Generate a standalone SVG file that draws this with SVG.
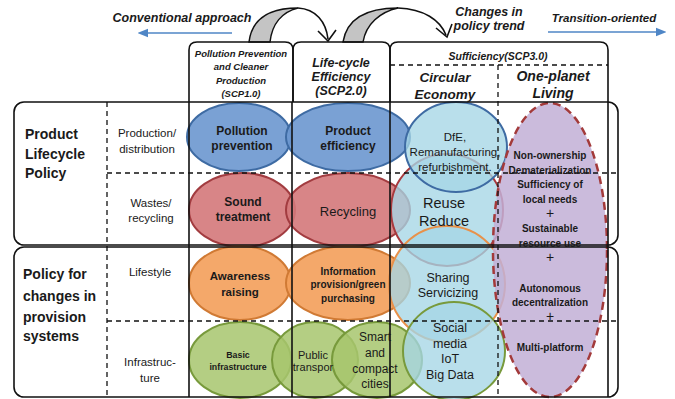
<svg xmlns="http://www.w3.org/2000/svg" width="675" height="399" viewBox="0 0 675 399">
<defs>
<marker id="blueL" viewBox="0 0 10 10" refX="2" refY="5" markerWidth="7" markerHeight="7" orient="auto-start-reverse"><path d="M0 1 L10 5 L0 9 Z" fill="#4f86c6"/></marker>
<style>
.t{font-family:"Liberation Sans",Arial,sans-serif;fill:#1a1a1a;text-anchor:middle}
.b{font-weight:bold}
.i{font-style:italic}
.s{stroke:#111;stroke-width:1.6;fill:none}
.d{stroke:#111;stroke-width:1.3;stroke-dasharray:5 4;fill:none}
.blue{fill:#6b97cf;fill-opacity:0.9;stroke:#3e6ba3;stroke-width:2}
.red{fill:#d4787a;fill-opacity:0.9;stroke:#a23c40;stroke-width:2}
.orange{fill:#f39e5a;fill-opacity:0.9;stroke:#d07a34;stroke-width:2}
.green{fill:#a7c56d;fill-opacity:0.85;stroke:#789a3c;stroke-width:2}
.lb{fill:#a5d6e6;fill-opacity:0.78;stroke-width:2}
.purple{fill:#c2afd6;fill-opacity:0.85;stroke:#a33a3a;stroke-width:2.5;stroke-dasharray:8 5}
</style>
</defs>
<rect width="675" height="399" fill="#fff"/>

<!-- header labels -->
<g id="conventional">
<text class="t b i" x="182" y="22" font-size="12.5">Conventional approach</text>
</g>
<g id="changes">
<text class="t b i" x="489" y="16" font-size="12.5">Changes in</text>
<text class="t b i" x="489" y="30" font-size="12.5">policy trend</text>
</g>
<g id="transition">
<text class="t b i" x="604" y="22" font-size="11.5">Transition-oriented</text>
</g>

<!-- ellipses -->
<g id="n-pollution"><ellipse class="blue" cx="239" cy="137" rx="52" ry="34"/></g>
<g id="n-product"><ellipse class="blue" cx="348" cy="137" rx="62" ry="34"/></g>
<g id="n-sound"><ellipse class="red" cx="242" cy="210" rx="53" ry="37"/></g>
<g id="n-recycling"><ellipse class="red" cx="348" cy="210" rx="62" ry="37"/></g>
<g id="n-awareness"><ellipse class="orange" cx="240" cy="283" rx="51" ry="37"/></g>
<g id="n-information"><ellipse class="orange" cx="348" cy="283" rx="62" ry="37"/></g>
<g id="n-basic"><ellipse class="green" cx="240" cy="360" rx="51" ry="38"/></g>
<g id="n-public"><ellipse class="green" cx="315" cy="360" rx="43" ry="38"/></g>
<g id="n-smart"><ellipse class="green" cx="377" cy="360" rx="45" ry="38"/></g>
<g id="n-reuse"><ellipse class="lb" stroke="#a8393d" cx="447" cy="210" rx="56" ry="56"/></g>
<g id="n-sharing"><ellipse class="lb" stroke="#e8914a" cx="447" cy="284" rx="58" ry="58"/></g>
<g id="n-dfe"><ellipse class="lb" stroke="#3e6ba3" cx="456" cy="147" rx="51" ry="45"/></g>
<g id="n-social"><ellipse class="lb" stroke="#789a3c" cx="454" cy="351" rx="51" ry="49"/></g>
<g id="n-oneplanet"><ellipse class="purple" cx="550" cy="250" rx="57" ry="147"/></g>

<!-- connectors and frame -->
<g id="connectors">
<line x1="232" y1="33" x2="146" y2="33" stroke="#4f86c6" stroke-width="1.5" marker-end="url(#blueL)"/>
<line x1="548" y1="32" x2="658" y2="32" stroke="#4f86c6" stroke-width="1.5" marker-end="url(#blueL)"/>
<path d="M249 42 C252 18 270 8 298 8 C282 12 272 24 270 42 Z" fill="#c4c4c4" stroke="#111" stroke-width="1.5"/>
<path d="M298 8 C316 9 326 22 328 39" class="s" stroke-width="1.8"/>
<path d="M318 31 L328 41 L336 30" class="s" stroke-width="1.8"/>
<path d="M343 42 C347 18 368 8 398 8 C380 12 366 24 363 42 Z" fill="#c4c4c4" stroke="#111" stroke-width="1.5"/>
<path d="M398 8 C424 9 440 20 446 35" class="s" stroke-width="1.8"/>
<path d="M436 28 L447 37 L452 24" class="s" stroke-width="1.8"/>
<path class="s" d="M189 102 V50 Q189 42 197 42 H285 Q293 42 293 50 V102"/>
<path class="s" d="M293 102 V50 Q293 42 301 42 H382 Q390 42 390 50 V102"/>
<path class="s" d="M390 102 V50 Q390 42 398 42 H600 Q608 42 608 50 V102"/>
<rect class="s" x="14" y="102" width="604" height="143" rx="10"/>
<rect class="s" x="14" y="247" width="604" height="150" rx="10"/>
<line class="s" x1="189" y1="102" x2="189" y2="397"/>
<line class="s" x1="292" y1="102" x2="292" y2="397"/>
<line class="s" x1="390" y1="102" x2="390" y2="397"/>
<line class="s" x1="608" y1="102" x2="608" y2="397"/>
<line class="d" x1="107" y1="102" x2="107" y2="397"/>
<line class="d" x1="498" y1="65" x2="498" y2="397"/>
<line class="d" x1="390" y1="65" x2="608" y2="65"/>
<line class="d" x1="107" y1="173" x2="618" y2="173"/>
<line class="d" x1="107" y1="321" x2="618" y2="321"/>
</g>

<!-- header box texts -->
<g id="h-scp1">
<text class="t b i" x="241" y="57" font-size="9.5">Pollution Prevention</text>
<text class="t b i" x="241" y="70" font-size="9.5">and Cleaner</text>
<text class="t b i" x="241" y="84" font-size="9.5">Production</text>
<text class="t b i" x="241" y="97" font-size="9.5">(SCP1.0)</text>
</g>
<g id="h-scp2">
<text class="t b i" x="341" y="67" font-size="12.5">Life-cycle</text>
<text class="t b i" x="341" y="81" font-size="12.5">Efficiency</text>
<text class="t b i" x="341" y="95" font-size="12.5">(SCP2.0)</text>
</g>
<g id="h-scp3">
<text class="t b i" x="498" y="60" font-size="10.5">Sufficiency(SCP3.0)</text>
</g>
<g id="h-circular">
<text class="t b i" x="445" y="82" font-size="13.5">Circular</text>
<text class="t b i" x="445" y="99" font-size="13.5">Economy</text>
</g>
<g id="h-oneplanet">
<text class="t b i" x="553" y="81" font-size="14">One-planet</text>
<text class="t b i" x="553" y="98" font-size="14">Living</text>
</g>

<!-- row labels -->
<g id="r-product">
<text class="t b" x="25" y="139" font-size="14" style="text-anchor:start">Product</text>
<text class="t b" x="25" y="159" font-size="14" style="text-anchor:start">Lifecycle</text>
<text class="t b" x="25" y="178" font-size="14" style="text-anchor:start">Policy</text>
</g>
<g id="r-production">
<text class="t" x="147" y="137" font-size="11.5">Production/</text>
<text class="t" x="147" y="153" font-size="11.5">distribution</text>
</g>
<g id="r-wastes">
<text class="t" x="151" y="207" font-size="11.5">Wastes/</text>
<text class="t" x="151" y="222" font-size="11.5">recycling</text>
</g>
<g id="r-policy">
<text class="t b" x="23" y="279" font-size="14" style="text-anchor:start">Policy for</text>
<text class="t b" x="23" y="301" font-size="14" style="text-anchor:start">changes in</text>
<text class="t b" x="23" y="322" font-size="14" style="text-anchor:start">provision</text>
<text class="t b" x="23" y="341" font-size="14" style="text-anchor:start">systems</text>
</g>
<g id="r-lifestyle">
<text class="t" x="150" y="276" font-size="11.5">Lifestyle</text>
</g>
<g id="r-infra">
<text class="t" x="150" y="366" font-size="11.5">Infrastruc-</text>
<text class="t" x="150" y="382" font-size="11.5">ture</text>
</g>

<!-- ellipse texts -->
<g id="l-ellipses">
<text class="t b" x="242" y="135" font-size="12">Pollution</text>
<text class="t b" x="242" y="150" font-size="12">prevention</text>
<text class="t b" x="348" y="135" font-size="12">Product</text>
<text class="t b" x="348" y="150" font-size="12">efficiency</text>
<text class="t b" x="243" y="206" font-size="12">Sound</text>
<text class="t b" x="243" y="221" font-size="12">treatment</text>
<text class="t" x="348" y="216" font-size="13">Recycling</text>
<text class="t b" x="240" y="280" font-size="11.5">Awareness</text>
<text class="t b" x="240" y="296" font-size="11.5">raising</text>
<text class="t b" x="348" y="275" font-size="10">Information</text>
<text class="t b" x="348" y="288" font-size="10">provision/green</text>
<text class="t b" x="348" y="302" font-size="10">purchasing</text>
<text class="t b" x="238" y="358" font-size="8.8">Basic</text>
<text class="t b" x="238" y="370" font-size="8.8">infrastructure</text>
<text class="t" x="313" y="359" font-size="11" fill="#2d3a1e">Public</text>
<text class="t" x="313" y="371" font-size="11" fill="#2d3a1e">transpor</text>
<text class="t" x="375" y="341" font-size="12">Smart</text>
<text class="t" x="375" y="357" font-size="12">and</text>
<text class="t" x="375" y="373" font-size="12">compact</text>
<text class="t" x="375" y="388" font-size="12">cities</text>
<text class="t" x="455" y="141" font-size="11.5">DfE,</text>
<text class="t" x="455" y="156" font-size="11.5">Remanufacturing,</text>
<text class="t" x="455" y="171" font-size="11.5">refurbishment.</text>
<text class="t" x="444" y="208" font-size="14.5">Reuse</text>
<text class="t" x="444" y="226" font-size="14.5">Reduce</text>
<text class="t" x="448" y="282" font-size="12.5">Sharing</text>
<text class="t" x="448" y="297" font-size="12.5">Servicizing</text>
<text class="t" x="450" y="332" font-size="12.5">Social</text>
<text class="t" x="450" y="348" font-size="12.5">media</text>
<text class="t" x="450" y="363" font-size="12.5">IoT</text>
<text class="t" x="450" y="379" font-size="12.5">Big Data</text>
<text class="t b" x="550" y="159" font-size="10">Non-ownership</text>
<text class="t b" x="550" y="174" font-size="10">Dematerialization</text>
<text class="t b" x="550" y="188" font-size="10">Sufficiency of</text>
<text class="t b" x="550" y="203" font-size="10">local needs</text>
<text class="t" x="550" y="218" font-size="14">+</text>
<text class="t b" x="550" y="232" font-size="10">Sustainable</text>
<text class="t b" x="550" y="247" font-size="10">resource use</text>
<text class="t" x="550" y="262" font-size="14">+</text>
<text class="t b" x="550" y="292" font-size="10">Autonomous</text>
<text class="t b" x="550" y="306" font-size="10">decentralization</text>
<text class="t" x="550" y="321" font-size="14">+</text>
<text class="t b" x="550" y="351" font-size="10">Multi-platform</text>
</g>
</svg>
